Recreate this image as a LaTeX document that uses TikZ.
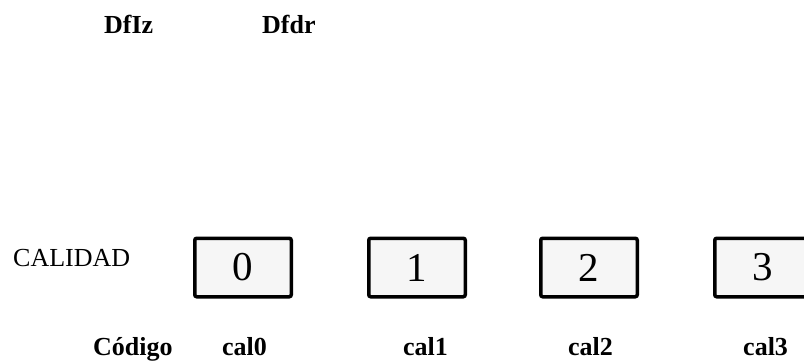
\documentclass[tikz,border=0pt]{standalone}
\usepackage{fontspec}
\setmainfont{Liberation Serif}
\usetikzlibrary{positioning}

\begin{document}
\begin{tikzpicture}[
			x=1pt, y=1pt,
			caja/.style={rectangle, draw, line width=3.5pt, rounded corners=2pt, fill=gray!7, minimum width=96.5pt, minimum height=58.5pt, inner sep=0pt, font=\fontsize{41}{45}\selectfont},
			etiq/.style={anchor=base west, inner sep=0pt, font=\fontsize{26}{30}\selectfont\bfseries},
			texto/.style={anchor=base west, inner sep=0pt, font=\fontsize{26}{30}\selectfont}
			]
			\useasboundingbox (0,0) rectangle (804,360);
			\node[etiq] (dfiz) at (104,327) {DfIz};
			\node[etiq] (dfdr) at (262,327) {Dfdr};
			
			\node[texto] (calidad) at (13,94) {CALIDAD};
			\node[caja] (caja0) at (243,92.5) {0};
			\node[caja] (caja1) at (417,92.5) {1};
			\node[caja] (caja2) at (589,92.5) {2};
			\node[caja] (caja3) at (763,92.5) {3};
			
			\node[etiq] (codigo) at (93,5) {Código};
			\node[etiq] (cal0) at (222,5) {cal0};
			\node[etiq] (cal1) at (403,5) {cal1};
			\node[etiq] (cal2) at (568,5) {cal2};
			\node[etiq] (cal3) at (743,5) {cal3};
		\end{tikzpicture}
\end{document}
